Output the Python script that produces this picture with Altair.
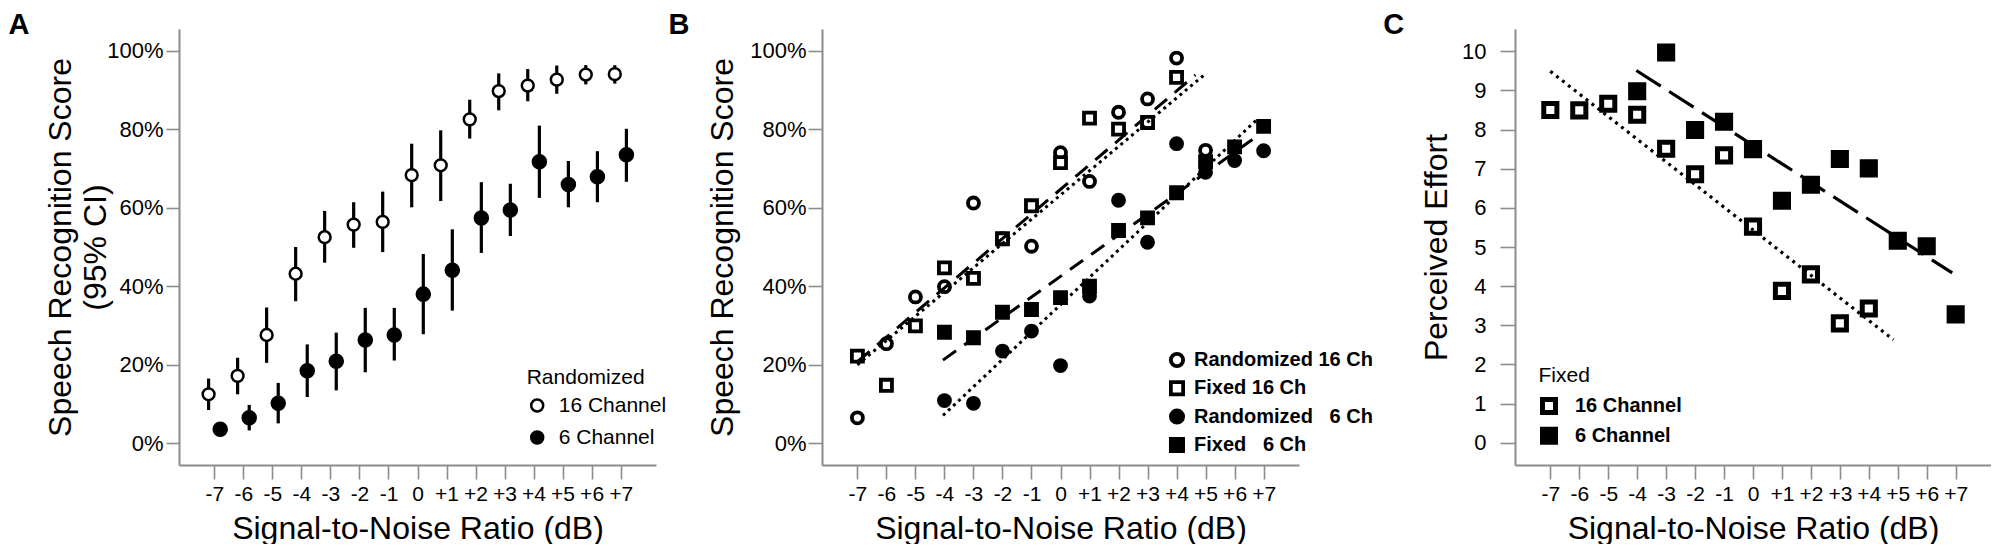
import altair as alt
import pandas as pd

FONT = "Liberation Sans"
GRAY = "#8c8c8c"

# ---------------- data ----------------
snr = list(range(-7, 8))

# Panel A (Randomized, means with 95% CI)
a16_mean = [12.5, 17.2, 27.6, 43.2, 52.5, 55.7, 56.4, 68.3, 70.8, 82.5, 89.7, 91.1, 92.6, 93.9, 94.0]
a16_lo = [8.5, 12.5, 20.5, 36.2, 46.0, 49.8, 48.7, 60.1, 61.7, 77.6, 84.8, 87.1, 89.0, 91.4, 91.6]
a16_hi = [16.5, 21.8, 34.6, 50.0, 59.2, 61.4, 64.1, 76.3, 79.7, 87.5, 94.2, 95.3, 96.2, 96.3, 96.3]
a6_mean = [3.6, 6.5, 10.2, 18.5, 20.9, 26.3, 27.6, 38.0, 44.1, 57.4, 59.4, 71.7, 65.9, 67.9, 73.5]
a6_lo = [1.8, 3.3, 5.1, 11.8, 13.5, 18.1, 21.1, 27.8, 33.8, 48.5, 52.8, 62.5, 60.1, 61.4, 66.6]
a6_hi = [5.3, 9.8, 15.4, 25.2, 28.2, 34.5, 34.5, 48.2, 54.5, 66.5, 66.1, 80.9, 71.9, 74.4, 80.1]
a_channels = ["16 Channel", "6 Channel"]

# Panel B
b_series = ["Randomized 16 Ch", "Fixed 16 Ch", "Randomized 6 Ch", "Fixed 6 Ch"]
b_r16_snr = list(range(-7, 6))
b_r16 = [6.5, 25.4, 37.3, 39.9, 61.2, 52.1, 50.2, 74.0, 66.7, 84.3, 87.7, 98.1, 74.6]
b_f16_snr = list(range(-7, 5))
b_f16 = [22.2, 14.8, 29.9, 44.7, 42.0, 52.1, 60.5, 71.5, 82.8, 80.0, 81.7, 93.2]
b_6_snr = list(range(-4, 8))
b_r6 = [10.9, 10.2, 23.5, 28.6, 19.8, 37.5, 61.9, 51.2, 76.3, 69.0, 72.0, 74.5]
b_f6 = [28.3, 26.9, 33.4, 34.1, 37.1, 40.0, 54.2, 57.4, 63.8, 71.7, 75.5, 80.7]
# fitted lines (start / end)
b_fit_style = ["dotted", "dashed", "dotted", "dashed"]
b_fit_x0 = [-7.0, -7.0, -4.05, -4.05]
b_fit_x1 = [4.95, 4.65, 6.75, 6.85]
b_fit_y0 = [20.0, 20.8, 7.1, 21.2]
b_fit_y1 = [93.8, 93.8, 82.3, 78.6]

# Panel C (Fixed, perceived effort)
c_channels = ["16 Channel", "6 Channel"]
c16_snr = list(range(-7, 5))
c16 = [8.50, 8.49, 8.66, 8.38, 7.51, 6.86, 7.34, 5.52, 3.88, 4.30, 3.05, 3.43]
c6_snr = list(range(-4, 8))
c6 = [8.98, 9.97, 7.99, 8.20, 7.50, 6.18, 6.59, 7.25, 7.01, 5.16, 5.02, 3.28]
c_fit_style = ["dotted", "dashed"]
c_fit_x0 = [-7.0, -4.03]
c_fit_x1 = [4.85, 6.88]
c_fit_y0 = [9.49, 9.51]
c_fit_y1 = [2.63, 4.34]

# ---------------- tables ----------------
dfA = pd.DataFrame({
    "snr": snr + snr,
    "mean": a16_mean + a6_mean,
    "lo": a16_lo + a6_lo,
    "hi": a16_hi + a6_hi,
    "channel": [a_channels[0]] * len(snr) + [a_channels[1]] * len(snr),
})

dfB = pd.DataFrame({
    "snr": b_r16_snr + b_f16_snr + b_6_snr + b_6_snr,
    "score": b_r16 + b_f16 + b_r6 + b_f6,
    "series": [b_series[0]] * len(b_r16) + [b_series[1]] * len(b_f16)
    + [b_series[2]] * len(b_r6) + [b_series[3]] * len(b_f6),
})
dfBL = pd.DataFrame({
    "snr": b_fit_x0 + b_fit_x1,
    "score": b_fit_y0 + b_fit_y1,
    "fit": b_series + b_series,
    "style": b_fit_style + b_fit_style,
})

dfC = pd.DataFrame({
    "snr": c16_snr + c6_snr,
    "effort": c16 + c6,
    "channel": [c_channels[0]] * len(c16) + [c_channels[1]] * len(c6),
})
dfCL = pd.DataFrame({
    "snr": c_fit_x0 + c_fit_x1,
    "effort": c_fit_y0 + c_fit_y1,
    "fit": c_channels + c_channels,
    "style": c_fit_style + c_fit_style,
})

# ---------------- helpers ----------------
XDOM = [-8.22, 8.22]
X_TITLE = "Signal-to-Noise Ratio (dB)"
DASH = alt.Scale(domain=["dotted", "dashed"], range=[[3, 4], [16, 10]])
DASH_C = alt.Scale(domain=["dotted", "dashed"], range=[[3, 4.5], [29, 10]])


def x_axis():
    return alt.Axis(
        values=snr,
        labelExpr="datum.value > 0 ? '+' + datum.value : '' + datum.value",
        title=X_TITLE, tickSize=14, labelPadding=4, labelFontSize=21,
        titleFontSize=32, titlePadding=9, labelOverlap=False, labelFlush=False,
    )


def panel_title(letter, dx):
    return alt.TitleParams(text=letter, anchor="start", frame="group", dx=dx,
                           offset=-34, baseline="alphabetic", fontSize=29,
                           fontWeight="bold", font=FONT, color="black")


# ---------------- Panel A ----------------
yA = alt.Axis(values=[0, 20, 40, 60, 80, 100], labelExpr="datum.value + '%'",
              title=["Speech Recognition Score", "(95% CI)"], tickSize=13,
              labelPadding=3, labelFontSize=22, titleFontSize=32,
              titleLineHeight=35, titlePadding=-6)
xA = alt.X("xpos:Q", scale=alt.Scale(domain=XDOM, nice=False, zero=False), axis=x_axis())
ySc = alt.Scale(domain=[-5.5, 105.5], nice=False, zero=False)

baseA = alt.Chart(dfA).transform_calculate(
    xpos="datum.snr + (datum.channel == '16 Channel' ? -0.2 : 0.2)",
)
barsA = baseA.mark_rule(color="black", strokeWidth=3.2).encode(
    x=xA,
    y=alt.Y("lo:Q", scale=ySc, axis=yA),
    y2="hi:Q",
)
legA = alt.Legend(title="Randomized", orient="none", legendX=347.7, legendY=338,
                  titleFontSize=21, titleFontWeight="normal", labelFontSize=21,
                  symbolSize=144, symbolStrokeWidth=2.5, symbolStrokeColor="black",
                  symbolType="circle", labelOffset=11, rowPadding=10, clipHeight=21,
                  titlePadding=7, padding=0, labelLimit=0,
                  labelExpr="datum.label == '6 Channel' ? '\u20076 Channel' : datum.label")
fillA = alt.Fill("channel:N", scale=alt.Scale(domain=a_channels, range=["white", "black"]),
                 legend=legA)
pts16A = baseA.transform_filter("datum.channel == '16 Channel'").mark_point(
    filled=True, shape="circle", stroke="black", strokeWidth=2.5, opacity=1, size=140
).encode(x=xA, y=alt.Y("mean:Q", scale=ySc, axis=yA), fill=fillA)
pts6A = baseA.transform_filter("datum.channel == '6 Channel'").mark_point(
    filled=True, shape="circle", stroke="black", strokeWidth=2.5, opacity=1, size=170
).encode(x=xA, y=alt.Y("mean:Q", scale=ySc, axis=yA), fill=fillA)
chartA = alt.layer(barsA, pts16A, pts6A).properties(width=477, height=436,
                                                     title=panel_title("A", -170.6))

# ---------------- Panel B ----------------
yB = alt.Axis(values=[0, 20, 40, 60, 80, 100], labelExpr="datum.value + '%'",
              title="Speech Recognition Score", tickSize=14, labelPadding=2,
              labelFontSize=22, titleFontSize=32, titlePadding=10)
xB = alt.X("snr:Q", scale=alt.Scale(domain=XDOM, nice=False, zero=False, range=[0, 477]),
           axis=x_axis())
legB = alt.Legend(title=None, orient="none", legendX=345, legendY=321,
                  labelFontSize=20, labelFontWeight="bold", symbolSize=150,
                  symbolStrokeWidth=3.8, symbolStrokeColor="black", labelOffset=7,
                  rowPadding=8.3, clipHeight=20, padding=0, labelLimit=0,
                  labelExpr="replace(datum.label, ' 6 Ch', ' \u20076 Ch')")
ptsB = alt.Chart(dfB).mark_point(
    filled=True, strokeWidth=3.8, opacity=1, size=122).encode(
    x=xB,
    y=alt.Y("score:Q", scale=ySc, axis=yB),
    shape=alt.Shape("series:N", scale=alt.Scale(domain=b_series,
                    range=["circle", "square", "circle", "square"]), legend=legB),
    fill=alt.Fill("series:N", scale=alt.Scale(domain=b_series,
                  range=["white", "white", "black", "black"]), legend=legB),
    stroke=alt.Stroke("series:N", scale=alt.Scale(domain=b_series,
                      range=["black", "black", "black", "black"]), legend=legB),
)
linesB = alt.Chart(dfBL).mark_line(color="black", strokeWidth=3, strokeCap="butt").encode(
    x=xB,
    y=alt.Y("score:Q", scale=ySc, axis=yB),
    detail="fit:N",
    strokeDash=alt.StrokeDash("style:N", scale=DASH, legend=None),
)
chartB = alt.layer(ptsB, linesB).properties(width=527, height=436,
                                             title=panel_title("B", -153.5))

# ---------------- Panel C ----------------
yC = alt.Axis(values=list(range(0, 11)), title="Perceived Effort", tickSize=15,
              labelPadding=14, labelFontSize=22, titleFontSize=32, titlePadding=8)
yCs = alt.Scale(domain=[-0.57, 10.57], nice=False, zero=False)
xC = alt.X("snr:Q", scale=alt.Scale(domain=XDOM, nice=False, zero=False), axis=x_axis())
legC = alt.Legend(title="Fixed", orient="none", legendX=23.5, legendY=335.6,
                  titleFontSize=21, titleFontWeight="normal", labelFontSize=20,
                  labelFontWeight="bold", symbolSize=169, symbolStrokeWidth=5,
                  symbolStrokeColor="black", symbolType="square", symbolOffset=0.5,
                  labelOffset=16, rowPadding=9.8, clipHeight=20, titlePadding=10.3,
                  padding=0, labelLimit=0,
                  labelExpr="datum.label == '6 Channel' ? '\u20076 Channel' : datum.label")
ptsC = alt.Chart(dfC).mark_point(filled=True, shape="square", stroke="black",
                                 strokeWidth=5, opacity=1, size=172).encode(
    x=xC,
    y=alt.Y("effort:Q", scale=yCs, axis=yC),
    fill=alt.Fill("channel:N", scale=alt.Scale(domain=c_channels, range=["white", "black"]),
                  legend=legC),
)
linesC = alt.Chart(dfCL).mark_line(color="black", strokeWidth=3.2, strokeCap="butt").encode(
    x=xC,
    y=alt.Y("effort:Q", scale=yCs, axis=yC),
    detail="fit:N",
    strokeDash=alt.StrokeDash("style:N", scale=DASH_C, legend=None),
)
chartC = alt.layer(ptsC, linesC).properties(width=476, height=436,
                                             title=panel_title("C", -131.7))

chart = alt.hconcat(chartA, chartB, chartC, spacing=166, bounds="flush").resolve_scale(
    x="independent", y="independent", fill="independent", shape="independent",
    stroke="independent", strokeDash="independent"
).properties(
    padding={"left": 0, "top": 3, "right": 0, "bottom": 0}
).configure(
    font=FONT
).configure_view(
    stroke=None
).configure_axis(
    grid=False, domainColor=GRAY, domainWidth=2, tickColor=GRAY, tickWidth=1.6,
    labelColor="black", titleColor="black", labelFont=FONT, titleFont=FONT,
    titleFontWeight="normal", labelBound=False
).configure_legend(
    labelFont=FONT, titleFont=FONT, labelColor="black", titleColor="black"
)

chart.save("out.html", embed_options={"renderer": "svg", "actions": False})
